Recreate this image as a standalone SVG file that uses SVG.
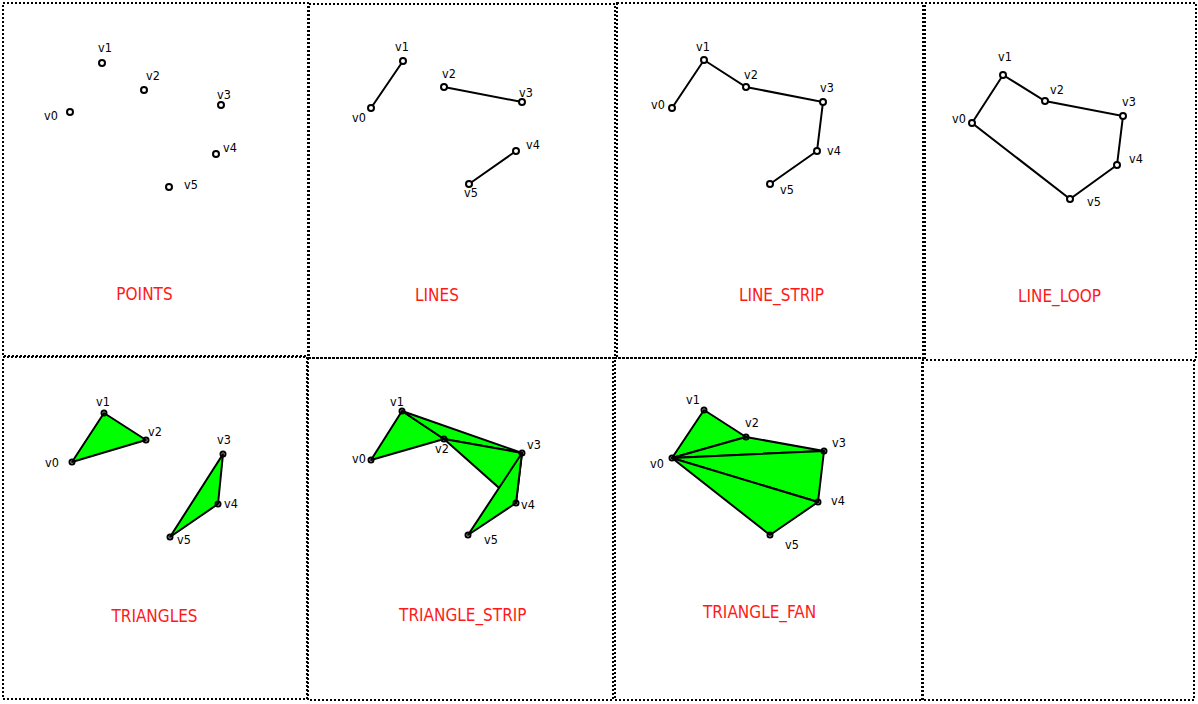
<svg xmlns="http://www.w3.org/2000/svg" width="1198" height="704" viewBox="0 0 1198 704">
<style>
.frame{fill:none;stroke:#000;stroke-width:2;stroke-dasharray:2 2}
.pt{fill:#fff;stroke:#000;stroke-width:2}
.tp{fill:none;stroke:#000;stroke-width:2}
.ln{stroke:#000;stroke-width:2;fill:none;stroke-linecap:round}
.tri{fill:#00ff00;stroke:#000;stroke-width:2;stroke-linejoin:round}
.lbl{font-family:"DejaVu Sans Condensed","DejaVu Sans",sans-serif;font-stretch:condensed;font-size:12.5px;fill:#000}
.ttl{font-family:"DejaVu Sans Condensed","DejaVu Sans",sans-serif;font-stretch:condensed;font-size:17px;fill:#ff1a1a;text-anchor:middle}
</style>
<rect width="1198" height="704" fill="#fff"/>
<g id="frames">
<rect class="frame" x="3" y="3" width="305" height="353"/>
<rect class="frame" x="309" y="4" width="306" height="354"/>
<rect class="frame" x="617" y="3" width="306" height="355"/>
<rect class="frame" x="925" y="3" width="271" height="357"/>
<rect class="frame" x="3" y="357" width="304" height="342"/>
<rect class="frame" x="308" y="358" width="305" height="342"/>
<rect class="frame" x="615" y="358" width="308" height="342"/>
<rect class="frame" x="922" y="360" width="272" height="340"/>
</g>
<g id="points">
<circle class="pt" cx="70" cy="112" r="3"/>
<circle class="pt" cx="102" cy="63" r="3"/>
<circle class="pt" cx="144" cy="90" r="3"/>
<circle class="pt" cx="221" cy="105" r="3"/>
<circle class="pt" cx="216" cy="154" r="3"/>
<circle class="pt" cx="169" cy="187" r="3"/>
<text class="lbl" x="44" y="120">v0</text>
<text class="lbl" x="98" y="52">v1</text>
<text class="lbl" x="146" y="80">v2</text>
<text class="lbl" x="217" y="99">v3</text>
<text class="lbl" x="223" y="152">v4</text>
<text class="lbl" x="184" y="189">v5</text>
<text class="ttl" x="144.5" y="300">POINTS</text>
</g>
<g id="lines">
<g class="connectors">
<line class="ln" x1="371" y1="108" x2="403" y2="61"/>
<line class="ln" x1="444" y1="87" x2="522" y2="102"/>
<line class="ln" x1="516" y1="151" x2="469" y2="184"/>
</g>
<circle class="pt" cx="371" cy="108" r="3"/>
<circle class="pt" cx="403" cy="61" r="3"/>
<circle class="pt" cx="444" cy="87" r="3"/>
<circle class="pt" cx="522" cy="102" r="3"/>
<circle class="pt" cx="516" cy="151" r="3"/>
<circle class="pt" cx="469" cy="184" r="3"/>
<text class="lbl" x="352" y="122">v0</text>
<text class="lbl" x="395" y="51">v1</text>
<text class="lbl" x="442" y="78">v2</text>
<text class="lbl" x="519" y="97">v3</text>
<text class="lbl" x="526" y="149">v4</text>
<text class="lbl" x="464" y="197">v5</text>
<text class="ttl" x="437" y="300.7">LINES</text>
</g>
<g id="line_strip">
<polyline class="ln" points="672,108 704,60 746,87 823,102 817,151 770,184"/>
<circle class="pt" cx="672" cy="108" r="3"/>
<circle class="pt" cx="704" cy="60" r="3"/>
<circle class="pt" cx="746" cy="87" r="3"/>
<circle class="pt" cx="823" cy="102" r="3"/>
<circle class="pt" cx="817" cy="151" r="3"/>
<circle class="pt" cx="770" cy="184" r="3"/>
<text class="lbl" x="651" y="109">v0</text>
<text class="lbl" x="696" y="51">v1</text>
<text class="lbl" x="744" y="79">v2</text>
<text class="lbl" x="820" y="92">v3</text>
<text class="lbl" x="827" y="155">v4</text>
<text class="lbl" x="780" y="194">v5</text>
<text class="ttl" x="781.5" y="301">LINE_STRIP</text>
</g>
<g id="line_loop">
<polygon class="ln" points="972,123 1003,75 1045,101 1123,116 1117,165 1070,199"/>
<circle class="pt" cx="972" cy="123" r="3"/>
<circle class="pt" cx="1003" cy="75" r="3"/>
<circle class="pt" cx="1045" cy="101" r="3"/>
<circle class="pt" cx="1123" cy="116" r="3"/>
<circle class="pt" cx="1117" cy="165" r="3"/>
<circle class="pt" cx="1070" cy="199" r="3"/>
<text class="lbl" x="952" y="123">v0</text>
<text class="lbl" x="998" y="61">v1</text>
<text class="lbl" x="1050" y="94">v2</text>
<text class="lbl" x="1122" y="106">v3</text>
<text class="lbl" x="1129" y="163">v4</text>
<text class="lbl" x="1087" y="206">v5</text>
<text class="ttl" x="1059.5" y="301.7">LINE_LOOP</text>
</g>
<g id="triangles">
<polygon class="tri" points="72,462 104,413 146,440"/>
<polygon class="tri" points="223,454 218,504 170,537"/>
<circle class="tp" cx="72" cy="462" r="2.5"/>
<circle class="tp" cx="104" cy="413" r="2.5"/>
<circle class="tp" cx="146" cy="440" r="2.5"/>
<circle class="tp" cx="223" cy="454" r="2.5"/>
<circle class="tp" cx="218" cy="504" r="2.5"/>
<circle class="tp" cx="170" cy="537" r="2.5"/>
<text class="lbl" x="45" y="467">v0</text>
<text class="lbl" x="96" y="406">v1</text>
<text class="lbl" x="148" y="436">v2</text>
<text class="lbl" x="217" y="444">v3</text>
<text class="lbl" x="224" y="508">v4</text>
<text class="lbl" x="177" y="544">v5</text>
<text class="ttl" x="154.5" y="621.7">TRIANGLES</text>
</g>
<g id="triangle_strip">
<polygon class="tri" points="371,460 402,411 444,439"/>
<polygon class="tri" points="402,411 444,439 522,453"/>
<polygon class="tri" points="444,439 522,453 516,503"/>
<polygon class="tri" points="522,453 516,503 468,535"/>
<circle class="tp" cx="371" cy="460" r="2.5"/>
<circle class="tp" cx="402" cy="411" r="2.5"/>
<circle class="tp" cx="444" cy="439" r="2.5"/>
<circle class="tp" cx="522" cy="453" r="2.5"/>
<circle class="tp" cx="516" cy="503" r="2.5"/>
<circle class="tp" cx="468" cy="535" r="2.5"/>
<text class="lbl" x="352" y="463">v0</text>
<text class="lbl" x="390" y="406">v1</text>
<text class="lbl" x="435" y="453">v2</text>
<text class="lbl" x="527" y="449">v3</text>
<text class="lbl" x="521" y="509">v4</text>
<text class="lbl" x="484" y="544">v5</text>
<text class="ttl" x="462.8" y="620.7">TRIANGLE_STRIP</text>
</g>
<g id="triangle_fan">
<polygon class="tri" points="672,458 704,410 746,437"/>
<polygon class="tri" points="672,458 746,437 824,451"/>
<polygon class="tri" points="672,458 824,451 818,502"/>
<polygon class="tri" points="672,458 818,502 770,535"/>
<circle class="tp" cx="672" cy="458" r="2.5"/>
<circle class="tp" cx="704" cy="410" r="2.5"/>
<circle class="tp" cx="746" cy="437" r="2.5"/>
<circle class="tp" cx="824" cy="451" r="2.5"/>
<circle class="tp" cx="818" cy="502" r="2.5"/>
<circle class="tp" cx="770" cy="535" r="2.5"/>
<text class="lbl" x="650" y="468">v0</text>
<text class="lbl" x="686" y="404">v1</text>
<text class="lbl" x="745" y="427">v2</text>
<text class="lbl" x="832" y="447">v3</text>
<text class="lbl" x="831" y="505">v4</text>
<text class="lbl" x="785" y="549">v5</text>
<text class="ttl" x="759.5" y="618.3">TRIANGLE_FAN</text>
</g>
</svg>
